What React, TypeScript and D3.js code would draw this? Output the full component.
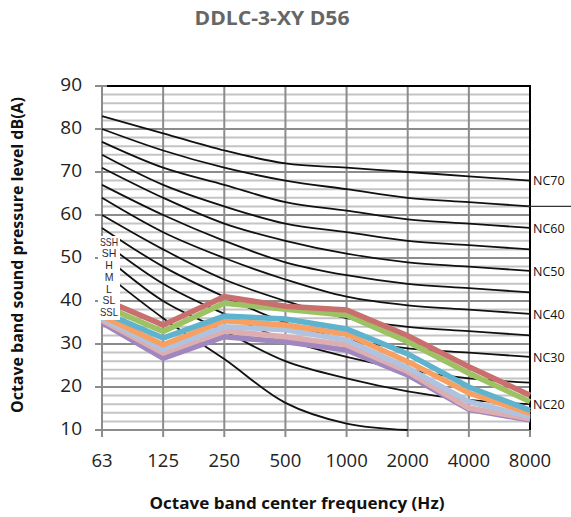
import React from "react";
import * as d3 from "d3";

const frequencies = ["63", "125", "250", "500", "1000", "2000", "4000", "8000"];
const yTicks = [10, 20, 30, 40, 50, 60, 70, 80, 90];

// NC reference curves (black)
const ncCurveNames = ["NC70", "NC65", "NC60", "NC55", "NC50", "NC45", "NC40", "NC35", "NC30", "NC25", "NC20", "NC15"];
const nc70 = [83, 79, 75, 72, 71, 70, 69, 68];
const nc65 = [80, 75, 71, 68, 66, 64, 63, 62];
const nc60 = [77, 71, 67, 63, 61, 59, 58, 57];
const nc55 = [74, 67, 62, 58, 56, 54, 53, 52];
const nc50 = [71, 64, 58, 54, 51, 49, 48, 47];
const nc45 = [67, 60, 54, 49, 46, 44, 43, 42];
const nc40 = [64, 56, 50, 45, 41, 39, 38, 37];
const nc35 = [60, 52, 45, 40, 36, 34, 33, 32];
const nc30 = [57, 48, 41, 35, 31, 29, 28, 27];
const nc25 = [54, 44, 37, 31, 27, 24, 22, 21];
const nc20 = [51, 40, 33, 26, 22, 19, 17, 16];
const nc15 = [47, 36, 26.5, 16.3, 11.5, 10];
const ncCurves = [nc70, nc65, nc60, nc55, nc50, nc45, nc40, nc35, nc30, nc25, nc20, nc15];
const ncLabels = ["NC70", "NC60", "NC50", "NC40", "NC30", "NC20"];

// Product series
const seriesNames = ["SSH", "SH", "H", "M", "L", "SL", "SSL"];
const seriesColors = ["#C9706F", "#9CC264", "#5FB3CE", "#F7A062", "#AFC3E0", "#DDADAF", "#9E88BF"];
const ssh = [40.5, 34.4, 41, 38.8, 37.9, 31.9, 24.7, 18.1];
const sh = [39, 32.9, 39.5, 38.1, 36.7, 30.5, 23.2, 16.6];
const h = [37.5, 31.4, 36.5, 35.8, 33.5, 27.7, 20, 14.6];
const m = [36.5, 29.8, 35.4, 34.4, 32.3, 25.9, 18.6, 13.9];
const l = [36, 28.8, 34, 33.3, 30.9, 24.4, 16.6, 13.1];
const sl = [35.5, 27.9, 33, 31.7, 29.8, 23.6, 15.1, 12.6];
const ssl = [35, 26.7, 31.7, 30.5, 28.6, 22.8, 14.8, 12.3];
const seriesValues = [ssh, sh, h, m, l, sl, ssl];

const W = 571;
const H = 517;
const left = 102;
const right = 530;
const top = 86;
const bottom = 430;

export default function App() {
  const x = d3.scalePoint<string>().domain(frequencies).range([left, right]).padding(0);
  const y = d3.scaleLinear().domain([10, 90]).range([bottom, top]);

  const minorTicks = d3.range(10, 91, 2);

  const ncLine = d3
    .line<number>()
    .x((_, i) => x(frequencies[i]) as number)
    .y((d) => y(d))
    .curve(d3.curveCatmullRom.alpha(0.5));

  const sLine = d3
    .line<number>()
    .x((_, i) => x(frequencies[i]) as number)
    .y((d) => y(d));

  const font = "'Open Sans', sans-serif";

  return (
    <svg
      width={W}
      height={H}
      style={{ position: "absolute", left: 0, top: 0, background: "#fff" }}
      fontFamily={font}
    >
      <rect x={0} y={0} width={W} height={H} fill="#fff" />
      {/* Title */}
      <text
        x={272}
        y={20}
        textAnchor="middle"
        dominantBaseline="middle"
        fontSize={19}
        fontWeight={700}
        fill="#666"
        textLength={155}
        lengthAdjust="spacingAndGlyphs"
      >
        DDLC-3-XY D56
      </text>

      {/* Minor gridlines */}
      {minorTicks
        .filter((v) => v % 10 !== 0)
        .map((v) => (
          <line key={"mi" + v} x1={left} x2={right} y1={y(v)} y2={y(v)} stroke="#c4c4c4" strokeWidth={2} />
        ))}
      {/* Vertical gridlines */}
      {frequencies.map((f) => (
        <line key={"v" + f} x1={x(f)} x2={x(f)} y1={top} y2={bottom + 7} stroke="#8c8c8c" strokeWidth={2} />
      ))}
      {/* Major gridlines */}
      {yTicks.map((v) => (
        <line key={"ma" + v} x1={left - 7} x2={right} y1={y(v)} y2={y(v)} stroke="#8c8c8c" strokeWidth={2} />
      ))}
      {/* Plot border top/right */}
      <line x1={left + 5} x2={right} y1={top} y2={top} stroke="#000" strokeWidth={2} />
      <line x1={right} x2={right} y1={top - 1} y2={bottom} stroke="#000" strokeWidth={2} />

      {/* NC curves */}
      {ncCurves.map((vals, i) => (
        <path key={ncCurveNames[i]} d={ncLine(vals) || ""} fill="none" stroke="#111" strokeWidth={1.8} />
      ))}
      {/* stray line extending NC65 past the border */}
      <line x1={right - 3} x2={W} y1={y(nc65[7])} y2={y(nc65[7])} stroke="#333" strokeWidth={1.2} />

      {/* Series */}
      {seriesValues
        .map((vals, i) => ({ vals, i }))
        .reverse()
        .map(({ vals, i }) => (
          <path
            key={seriesNames[i]}
            d={sLine(vals) || ""}
            fill="none"
            stroke={seriesColors[i]}
            strokeWidth={5.5}
            strokeLinejoin="miter"
          />
        ))}

      {/* Series name box */}
      <rect x={98} y={236} width={22} height={84} fill="#fff" />
      {seriesNames.map((n, i) => (
        <text
          key={"lab" + n}
          x={109}
          y={243 + i * 11.7}
          textAnchor="middle"
          dominantBaseline="middle"
          fontSize={10.5}
          fill="#2a2a3a"
          fontFamily="'Liberation Sans', sans-serif"
          textLength={n.length > 2 ? 18 : undefined}
          lengthAdjust="spacingAndGlyphs"
        >
          {n}
        </text>
      ))}

      {/* NC labels */}
      {ncLabels.map((n) => {
        const idx = ncCurveNames.indexOf(n);
        const vals = ncCurves[idx];
        return (
          <text
            key={"nc" + n}
            x={533}
            y={y(vals[vals.length - 1]) + 1.5}
            dominantBaseline="middle"
            fontSize={12.5}
            fill="#111"
          >
            {n}
          </text>
        );
      })}

      {/* Y tick labels */}
      {yTicks.map((v) => (
        <text key={"yt" + v} x={82} y={y(v)} textAnchor="end" dominantBaseline="middle" fontSize={19} fill="#222">
          {v}
        </text>
      ))}
      {/* X tick labels */}
      {frequencies.map((f) => (
        <text key={"xt" + f} x={x(f)} y={462} textAnchor="middle" dominantBaseline="middle" fontSize={18.5} fill="#222">
          {f}
        </text>
      ))}

      {/* Axis titles */}
      <text
        transform={`translate(19,255) rotate(-90)`}
        textAnchor="middle"
        dominantBaseline="middle"
        fontSize={16.5}
        fontWeight={700}
        fill="#111"
        textLength={316}
        lengthAdjust="spacingAndGlyphs"
      >
        Octave band sound pressure level dB(A)
      </text>
      <text
        x={297}
        y={505}
        textAnchor="middle"
        dominantBaseline="middle"
        fontSize={16}
        fontWeight={700}
        fill="#111"
        textLength={295}
        lengthAdjust="spacingAndGlyphs"
      >
        Octave band center frequency (Hz)
      </text>
    </svg>
  );
}
